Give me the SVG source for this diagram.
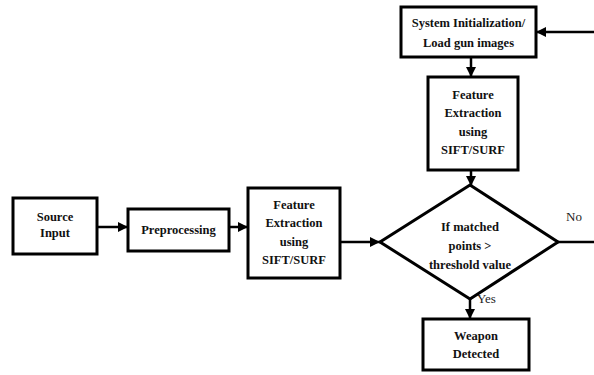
<svg xmlns="http://www.w3.org/2000/svg" width="594" height="375" viewBox="0 0 594 375">
<defs>
<marker id="ah" viewBox="0 0 10 10" refX="10" refY="5" markerWidth="4" markerHeight="4" orient="auto" markerUnits="strokeWidth">
<path d="M0,0 L10,5 L0,10 Z" fill="#000"/>
</marker>
<style>
.box{fill:#fff;stroke:#000;stroke-width:3}
.t{font-family:'Liberation Serif','DejaVu Serif',serif;font-weight:700;font-size:12.5px;fill:#111;text-anchor:middle}
.l{font-family:'Liberation Serif','DejaVu Serif',serif;font-size:13px;fill:#222}
.c{stroke:#000;stroke-width:2.5;fill:none}
</style>
</defs>
<rect width="594" height="375" fill="#fff"/>
<g id="connectors">
<line class="c" x1="97" y1="227" x2="128" y2="227" marker-end="url(#ah)"/>
<line class="c" x1="229" y1="227" x2="248" y2="227" marker-end="url(#ah)"/>
<line class="c" x1="340" y1="242" x2="380" y2="242" marker-end="url(#ah)"/>
<line class="c" x1="594" y1="32" x2="536" y2="32" marker-end="url(#ah)"/>
<line class="c" x1="471" y1="57" x2="471" y2="77" marker-end="url(#ah)"/>
<line class="c" x1="471" y1="170" x2="471" y2="186" marker-end="url(#ah)"/>
<line class="c" x1="558" y1="242" x2="594" y2="242"/>
<line class="c" x1="470" y1="299" x2="470" y2="319" marker-end="url(#ah)"/>
<text class="l" x="566" y="221">No</text>
<text class="l" x="477" y="303">Yes</text>
</g>
<g id="source">
<rect class="box" x="13" y="198" width="84" height="56"/>
<text class="t" x="55" y="221">Source</text>
<text class="t" x="55" y="237">Input</text>
</g>
<g id="preprocessing">
<rect class="box" x="128" y="209" width="101" height="42"/>
<text class="t" x="178.5" y="234">Preprocessing</text>
</g>
<g id="feature1">
<rect class="box" x="248" y="188" width="92" height="90"/>
<text class="t" x="294" y="209">Feature</text>
<text class="t" x="294" y="227">Extraction</text>
<text class="t" x="294" y="246">using</text>
<text class="t" x="294" y="264">SIFT/SURF</text>
</g>
<g id="sysinit">
<rect class="box" x="401" y="7" width="135" height="50"/>
<text class="t" x="468.5" y="27">System Initialization/</text>
<text class="t" x="468.5" y="47">Load gun images</text>
</g>
<g id="feature2">
<rect class="box" x="428" y="77" width="90" height="93"/>
<text class="t" x="473" y="99">Feature</text>
<text class="t" x="473" y="117">Extraction</text>
<text class="t" x="473" y="136">using</text>
<text class="t" x="473" y="154">SIFT/SURF</text>
</g>
<g id="decision">
<polygon class="box" points="470,185 558,242 470,299 380,242"/>
<text class="t" x="470" y="231">If matched</text>
<text class="t" x="470" y="250">points &gt;</text>
<text class="t" x="470" y="269">threshold value</text>
</g>
<g id="weapon">
<rect class="box" x="423" y="319" width="106" height="51"/>
<text class="t" x="476" y="340">Weapon</text>
<text class="t" x="476" y="358">Detected</text>
</g>
</svg>
